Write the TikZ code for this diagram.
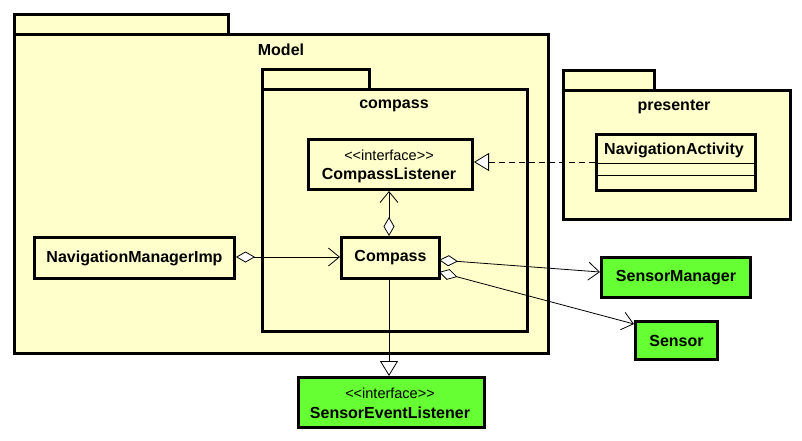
\documentclass[tikz,border=0pt]{standalone}
\usepackage{fontspec}
\setmainfont{Liberation Sans}
\usetikzlibrary{arrows.meta}
\definecolor{pkgfill}{RGB}{255,255,204}
\definecolor{grn}{RGB}{102,255,51}
\begin{document}
\begin{tikzpicture}[x=1pt,y=-1pt,
  pkg/.style={draw=black,fill=pkgfill,line width=3pt,inner sep=0pt,anchor=north west},
  cls/.style={draw=black,line width=3pt,inner sep=0pt,anchor=north west,align=center},
  ext/.style={cls,fill=grn},
  nm/.style={font=\fontsize{16}{18}\selectfont\bfseries},
  st/.style={font=\fontsize{14.5}{16}\selectfont},
  conn/.style={line width=0.8pt,draw=black},
  aggr/.style={arrows={Diamond[open,length=19pt,width=11pt,line width=0.8pt,fill=white]-Straight Barb[length=11pt,width=18pt,line width=0.8pt]}},
  tri/.style={-{Triangle[open,length=15pt,width=18pt,line width=0.8pt,fill=white]}}
]
\useasboundingbox (0,0) rectangle (802,440);
% Model package
\node[pkg,minimum width=214pt,minimum height=20pt] (modeltab) at (13,13) {};
\node[pkg,minimum width=534pt,minimum height=319pt] (model) at (13,33) {};
\node[nm] (modellbl) at (281,50) {Model};
% compass package
\node[pkg,minimum width=107pt,minimum height=20pt] (comptab) at (261,68) {};
\node[pkg,minimum width=265pt,minimum height=242pt] (comppkg) at (261,88) {};
\node[nm] (complbl) at (394,106) {compass};
% presenter package
\node[pkg,minimum width=91pt,minimum height=20pt] (prestab) at (562,69) {};
\node[pkg,minimum width=227pt,minimum height=129pt] (prespkg) at (562,89) {};
\node[nm] (preslbl) at (674,107) {presenter};
% classes
\node[cls,minimum width=164pt,minimum height=50pt] (cl) at (307,138) {};
\node[st] (clst) at (389,155) {{<}{<}interface{>}{>}};
\node[nm] (clnm) at (389,175) {CompassListener};
\node[cls,minimum width=159pt,minimum height=56pt] (na) at (595,133) {};
\node[nm] (nanm) at (674,150) {NavigationActivity};
\draw[line width=0.8pt] (595,163) -- (754,163);
\draw[line width=0.8pt] (595,175) -- (754,175);
\node[cls,minimum width=200pt,minimum height=41pt,nm] (nmi) at (33,236) {NavigationManagerImp};
\node[cls,minimum width=98pt,minimum height=41pt,nm] (cp) at (340,236) {Compass};
\node[ext,minimum width=149pt,minimum height=40pt,nm] (sm) at (600,256) {SensorManager};
\node[ext,minimum width=82pt,minimum height=38pt,nm] (sn) at (634,320) {Sensor};
\node[ext,minimum width=186pt,minimum height=50pt] (sel) at (297,376) {};
\node[st] (selst) at (390,393) {{<}{<}interface{>}{>}};
\node[nm] (selnm) at (390,413) {SensorEventListener};
% connectors
\coordinate (naL) at (na.west |- 0,162);
\coordinate (clR) at (cl.east |- 0,162);
\draw[conn,dashed,dash pattern=on 6pt off 4pt,tri] (naL) -- (clR);
\draw[conn,aggr] (nmi.east |- 0,257) -- (cp.west |- 0,257);
\draw[conn,aggr] (cp.north -| 389,0) -- (cl.south -| 389,0);
\coordinate (cpD1) at (439,260);
\coordinate (cpD2) at (439,272);
\draw[conn,aggr] (cpD1) -- (sm.west |- 0,272);
\draw[conn,aggr] (cpD2) -- (sn.west |- 0,324);
\draw[conn,tri] (cp.south -| 389,0) -- (sel.north -| 389,0);
\end{tikzpicture}
\end{document}
